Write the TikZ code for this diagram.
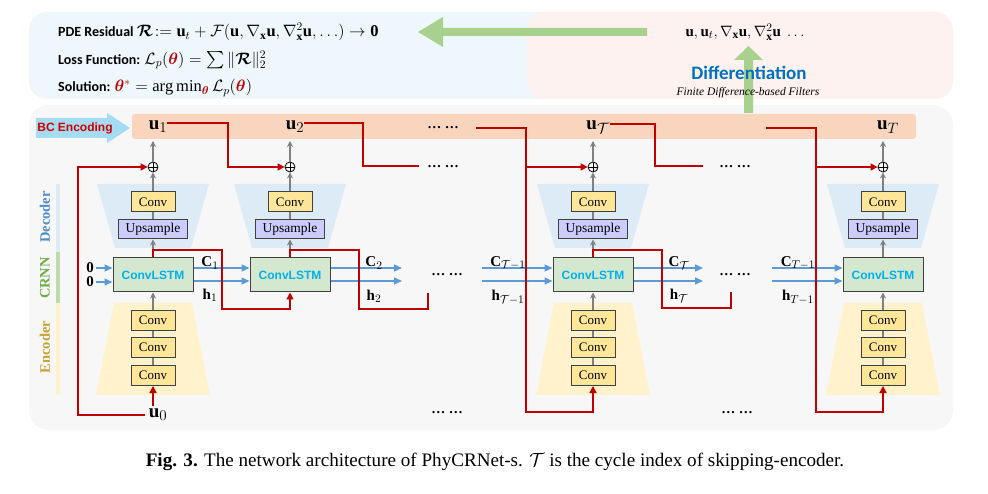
\RequirePackage{fix-cm}
\documentclass[tikz,border=0pt]{standalone}
\usepackage{amsmath}
\usepackage{fontspec}
\setmainfont{Liberation Serif}
\newfontfamily\calibri{Carlito}
\newfontfamily\arialf{Liberation Sans}
\usepackage{bm}
\usetikzlibrary{arrows.meta}
\DeclareMathSizes{19}{19}{15}{12}
\DeclareMathSizes{15}{15}{11.5}{9}
\newcommand{\mth}[1]{{\fontsize{16.5}{17}\selectfont$#1$}}
\definecolor{panelblue}{HTML}{EEF7FB}
\definecolor{panelpink}{HTML}{FDF2F0}
\definecolor{panelgray}{HTML}{F7F7F7}
\definecolor{bandorange}{HTML}{F8D5BC}
\definecolor{bcblue}{HTML}{A5DBF3}
\definecolor{arrgreen}{HTML}{A9D18E}
\definecolor{decfill}{HTML}{DDEBF7}
\definecolor{encfill}{HTML}{FFF2CC}
\definecolor{convfill}{HTML}{FFE699}
\definecolor{upsfill}{HTML}{CCCCFF}
\definecolor{lstmfill}{HTML}{D4E8CF}
\definecolor{lstmtext}{HTML}{00B0F0}
\definecolor{redline}{HTML}{C00000}
\definecolor{blueline}{HTML}{5B9BD5}
\definecolor{diffblue}{HTML}{0070C0}
\definecolor{decblue}{HTML}{4F8DCB}
\definecolor{crnngreen}{HTML}{70AD47}
\definecolor{encgold}{HTML}{C9A230}
\definecolor{bcred}{HTML}{D00000}
\tikzset{
  boxbase/.style={draw=black!75, line width=1pt, inner sep=0pt, font=\fontsize{13}{15}\selectfont},
  convbox/.style={boxbase, fill=convfill, minimum width=44pt, minimum height=20pt},
  upsbox/.style={boxbase, fill=upsfill, minimum width=69pt, minimum height=19pt, font=\fontsize{13.5}{15}\selectfont},
  lstmbox/.style={boxbase, fill=lstmfill, minimum width=80pt, minimum height=34pt, font=\arialf\bfseries\fontsize{12}{14}\selectfont, text=lstmtext},
  opl/.style={circle, draw=black, line width=0.8pt, inner sep=0pt, minimum size=10pt,
    path picture={\draw[line width=0.8pt] (path picture bounding box.north) -- (path picture bounding box.south) (path picture bounding box.west) -- (path picture bounding box.east);}},
  garr/.style={draw=gray, line width=1.2pt, -{Stealth[length=6pt,width=6pt]}},
  gline/.style={draw=gray, line width=1.2pt},
  rline/.style={draw=redline, line width=1.4pt},
  rarr/.style={rline, -{Triangle[length=7pt,width=7pt]}},
  barr/.style={draw=blueline, line width=1.4pt, -{Triangle[length=8pt,width=7pt]}},
  ulbl/.style={font=\fontsize{19}{20}\selectfont, inner sep=0pt},
  slbl/.style={font=\fontsize{15}{16}\selectfont, inner sep=0pt},
  dotlbl/.style={font=\bfseries\fontsize{14}{15}\selectfont, inner sep=0pt},
  sidelbl/.style={rotate=90, inner sep=0pt, font=\bfseries\fontsize{14.5}{15}\selectfont},
  toptxt/.style={anchor=west, inner sep=0pt, font=\calibri\bfseries\fontsize{14}{16}\selectfont},
}
\begin{document}
\begin{tikzpicture}[x=1pt,y=-1pt]
\useasboundingbox (0,0) rectangle (988,494);
\fill[white] (0,0) rectangle (988,494);
% panels
\fill[panelblue, rounded corners=18pt] (29,12) rectangle (560,99);
\fill[panelpink, rounded corners=18pt] (527,12) rectangle (953,99);
\fill[panelgray, rounded corners=20pt] (29,105) rectangle (953,430);
% green arrows
\fill[arrgreen] (647,28) -- (443,28) -- (443,17) -- (418,32) -- (443,47) -- (443,36) -- (647,36) -- cycle;
\fill[arrgreen] (744,113) -- (744,60) -- (734,60) -- (748.5,46) -- (763,60) -- (753,60) -- (753,113) -- cycle;
% top texts
\node[toptxt] (pde) at (58,32) {PDE Residual \mth{\bm{\mathcal{R}}\!:=\mathbf{u}_t+\mathcal{F}(\mathbf{u},\nabla_{\mathbf{x}}\mathbf{u},\nabla^2_{\mathbf{x}}\mathbf{u},\ldots)\rightarrow\mathbf{0}}};
\node[toptxt] (loss) at (58,60) {Loss Function: \mth{\mathcal{L}_p(\textcolor{redline}{\bm\theta})=\sum\|\bm{\mathcal{R}}\|_2^2}};
\node[toptxt] (sol) at (58,88) {Solution: \mth{\textcolor{redline}{\bm\theta^*}=\arg\min_{\textcolor{redline}{\bm\theta}}\mathcal{L}_p(\textcolor{redline}{\bm\theta})}};
\node[slbl] (derivs) at (745,32) {$\mathbf{u},\mathbf{u}_t,\nabla_{\mathbf{x}}\mathbf{u},\nabla^2_{\mathbf{x}}\mathbf{u}\ \ldots$};
\node[inner sep=0pt, text=diffblue, font=\calibri\bfseries\fontsize{19}{20}\selectfont] (diff) at (749,73) {Differentiation};
\node[inner sep=0pt, font=\itshape\fontsize{11.5}{12}\selectfont] (fdf) at (748,93) {Finite Difference-based Filters};
% band
\fill[bandorange, rounded corners=3pt] (132,114) rectangle (916,139);
\fill[bcblue] (36,118) -- (107,118) -- (107,113) -- (130,128) -- (107,143) -- (107,138) -- (36,138) -- cycle;
\node[inner sep=0pt, text=bcred, font=\arialf\bfseries\fontsize{12}{13}\selectfont] (bc) at (75,128) {BC Encoding};
% side bars
\fill[decfill] (56,184) rectangle (60,252);
\fill[crnngreen!45] (56,252) rectangle (60,303);
\fill[encfill] (56,303) rectangle (60,395);
\node[sidelbl, text=decblue] (declab) at (45,217) {Decoder};
\node[sidelbl, text=crnngreen] (crnnlab) at (45,278) {CRNN};
\node[sidelbl, text=encgold] (enclab) at (45,347) {Encoder};
% trapezoids
\foreach \cx in {153,290,593,883} {
  \fill[decfill] (\cx-56,184) -- (\cx+56,184) -- (\cx+38,248) -- (\cx-38,248) -- cycle;
}
\foreach \cx in {153,593,883} {
  \fill[encfill] (\cx-39,303) -- (\cx+39,303) -- (\cx+57,395) -- (\cx-57,395) -- cycle;
}
% columns
\foreach \cx/\i in {153/1,290/2,593/3,883/4} {
  \node[convbox] (dconv\i) at (\cx,202) {Conv};
  \node[upsbox] (ups\i) at (\cx,229.5) {Upsample};
  \node[lstmbox] (lstm\i) at (\cx,275) {ConvLSTM};
  \node[opl] (op\i) at (\cx,167) {};
  \coordinate (uin\i) at (\cx,141);
  \draw[garr] (lstm\i) -- (ups\i);
  \draw[gline] (ups\i) -- (dconv\i);
  \draw[garr] (dconv\i) -- (op\i);
  \draw[garr] (op\i) -- (uin\i);
}
\foreach \cx/\i in {153/1,593/3,883/4} {
  \node[convbox] (ea\i) at (\cx,320.5) {Conv};
  \node[convbox] (eb\i) at (\cx,347.5) {Conv};
  \node[convbox] (ec\i) at (\cx,375.5) {Conv};
  \draw[gline] (ec\i) -- (eb\i);
  \draw[gline] (eb\i) -- (ea\i);
  \draw[garr] (ea\i) -- (lstm\i);
}
% u labels
\node[ulbl] (u1) at (158,127) {$\mathbf{u}_1$};
\node[ulbl] (u2) at (295,127) {$\mathbf{u}_2$};
\node[ulbl] (u3) at (598,127) {$\mathbf{u}_{\mathcal{T}}$};
\node[ulbl] (u4) at (888,127) {$\mathbf{u}_{T}$};
\node[ulbl] (u0) at (158,415) {$\mathbf{u}_0$};
% dots
\node[dotlbl] (dt1) at (443,128) {\ldots\ \ldots};
\node[dotlbl] (dp1) at (443,167) {\ldots\ \ldots};
\node[dotlbl] (dp2) at (735,167) {\ldots\ \ldots};
\node[dotlbl] (dm1) at (447,275) {\ldots\ \ldots};
\node[dotlbl] (dm2) at (735,275) {\ldots\ \ldots};
\node[dotlbl] (db1) at (447,413) {\ldots\ \ldots};
\node[dotlbl] (db2) at (737,413) {\ldots\ \ldots};
% zero inputs
\node[slbl, font=\bfseries\fontsize{15}{16}\selectfont] (z1) at (90,268) {0};
\node[slbl, font=\bfseries\fontsize{15}{16}\selectfont] (z2) at (90,282) {0};
\draw[barr] ([xshift=2pt]z1.east) -- (z1.east -| lstm1.west);
\draw[barr] ([xshift=2pt]z2.east) -- (z2.east -| lstm1.west);
% C/h arrows
\draw[barr] ([yshift=7pt]lstm1.east) -- ([yshift=7pt]lstm2.west);
\draw[barr] ([yshift=-6pt]lstm1.east) -- ([yshift=-6pt]lstm2.west);
\coordinate (f1) at (402,268);
\coordinate (f2) at (402,281);
\draw[barr] ([yshift=7pt]lstm2.east) -- (f1);
\draw[barr] ([yshift=-6pt]lstm2.east) -- (f2);
\coordinate (g1) at (482,268);
\coordinate (g2) at (482,281);
\draw[barr] (g1) -- ([yshift=7pt]lstm3.west);
\draw[barr] (g2) -- ([yshift=-6pt]lstm3.west);
\coordinate (f3) at (703,268);
\coordinate (f4) at (703,281);
\draw[barr] ([yshift=7pt]lstm3.east) -- (f3);
\draw[barr] ([yshift=-6pt]lstm3.east) -- (f4);
\coordinate (g3) at (772,268);
\coordinate (g4) at (772,281);
\draw[barr] (g3) -- ([yshift=7pt]lstm4.west);
\draw[barr] (g4) -- ([yshift=-6pt]lstm4.west);
\node[slbl] (c1) at (210,263) {$\mathbf{C}_1$};
\node[slbl] (h1) at (210,295) {$\mathbf{h}_1$};
\node[slbl] (c2) at (374,263) {$\mathbf{C}_2$};
\node[slbl] (h2) at (374,296) {$\mathbf{h}_2$};
\node[slbl] (c3) at (508,263) {$\mathbf{C}_{\mathcal{T}-1}$};
\node[slbl] (h3) at (508,297) {$\mathbf{h}_{\mathcal{T}-1}$};
\node[slbl] (c4) at (679,263) {$\mathbf{C}_{\mathcal{T}}$};
\node[slbl] (h4) at (679,296) {$\mathbf{h}_{\mathcal{T}}$};
\node[slbl] (c5) at (798,263) {$\mathbf{C}_{T-1}$};
\node[slbl] (h5) at (798,297) {$\mathbf{h}_{T-1}$};
% red skip connections
\coordinate (r0) at (153,406);
\draw[rarr] (r0) -- (ec1.south);
\draw[rarr] ([xshift=-4pt]u0.west) -- (78,415) |- (op1.west);
\coordinate (k1) at (228,123);
\draw[rarr] (u1.east |- k1) -- (k1) |- (op2.west);
\coordinate (k2) at (222,250);
\draw[rarr] (lstm1.north) -- (lstm1.north |- k2) -- (k2) -- (222,309) -| (lstm2.south);
\coordinate (k3) at (363,123);
\coordinate (e2) at (419,166);
\draw[rline] (u2.east |- k3) -- (k3) |- (e2);
\coordinate (e3) at (428,293);
\draw[rline] (lstm2.north) -- (lstm2.north |- k2) -- (359,250) -- (359,309) -- (428,309) -- (e3);
\coordinate (s4) at (476,128);
\coordinate (k4) at (526,128);
\draw[rarr] (s4) -- (k4) -- (526,412) -| (ec3.south);
\draw[rarr] (k4 |- op3.west) -- (op3.west);
\coordinate (k5) at (655,124);
\coordinate (e5) at (703,166);
\draw[rline] (u3.east |- k5) -- (k5) |- (e5);
\coordinate (e6) at (731,292);
\draw[rline] (lstm3.north) -- (lstm3.north |- k2) -- (662,250) -- (662,308) -- (731,308) -- (e6);
\coordinate (s6) at (766,128);
\coordinate (k6) at (816,128);
\draw[rarr] (s6) -- (k6) -- (816,412) -| (ec4.south);
\draw[rarr] (k6 |- op4.west) -- (op4.west);
% caption
\node[inner sep=0pt, font=\fontsize{19.1}{20}\selectfont] (cap) at (495,462) {\textbf{Fig. 3.} The network architecture of PhyCRNet-s. $\mathcal{T}$ is the cycle index of skipping-encoder.};
\end{tikzpicture}
\end{document}
